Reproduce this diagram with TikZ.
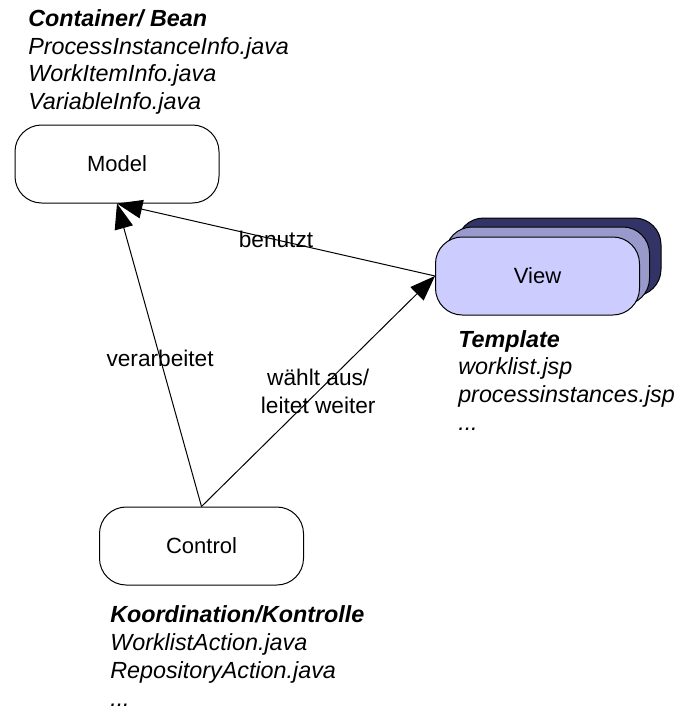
\documentclass[tikz,border=0pt]{standalone}
\usepackage{fontspec}
\setmainfont{Liberation Sans}
\usetikzlibrary{arrows.meta}
\definecolor{viewfront}{HTML}{CCCCFF}
\definecolor{viewmid}{HTML}{9999CC}
\definecolor{viewback}{HTML}{333366}
\begin{document}
\begin{tikzpicture}[x=0.75pt,y=-0.75pt,
  txt/.style={font=\fontsize{16.5}{20.6}\selectfont},
  box/.style={draw, line width=0.75pt, rounded corners=20pt,
    minimum width=153pt, minimum height=58.5pt, inner sep=0pt, txt},
  conn/.style={draw, line width=0.75pt, -{Triangle[length=19pt,width=14pt]}},
  lbl/.style={inner sep=0pt, align=center, font=\fontsize{17}{20.6}\selectfont},
  info/.style={anchor=base west, inner sep=0pt, font=\fontsize{17.5}{20.6}\selectfont\itshape},
  infohead/.style={info, font=\fontsize{17.5}{20.6}\selectfont\bfseries\itshape}
]
\useasboundingbox (0,0) rectangle (682,710);

% MVC components
\node[box] (model) at (117,164) {Model};
\node[box, fill=viewback] (viewback) at (559,257) {};
\node[box, fill=viewmid] (viewmid) at (547.5,266) {};
\node[box, fill=viewfront] (view) at (537.5,276) {View};
\node[box] (control) at (201.5,546) {Control};

% relations
\draw[conn] (view.west) -- node[lbl, pos=0.5] {benutzt} (model.south);
\draw[conn] (control.north) -- node[lbl, pos=0.49] {verarbeitet} (model.south);
\draw[conn] (control.north) -- node[lbl, pos=0.5] {wählt aus/\\leitet weiter} (view.west);

% model annotations
\node[infohead] (mh) at (28,27) {Container/ Bean};
\node[info] (m1) at (28,54.5) {ProcessInstanceInfo.java};
\node[info] (m2) at (28,82) {WorkItemInfo.java};
\node[info] (m3) at (28,109.5) {VariableInfo.java};

% view annotations
\node[infohead] (vh) at (458,347) {Template};
\node[info] (v1) at (458,374.5) {worklist.jsp};
\node[info] (v2) at (458,402) {processinstances.jsp};
\node[info] (v3) at (458,430) {...};

% control annotations
\node[infohead] (ch) at (110,622) {Koordination/Kontrolle};
\node[info] (c1) at (110,650) {WorklistAction.java};
\node[info] (c2) at (110,678) {RepositoryAction.java};
\node[info] (c3) at (110,706) {...};
\end{tikzpicture}
\end{document}
